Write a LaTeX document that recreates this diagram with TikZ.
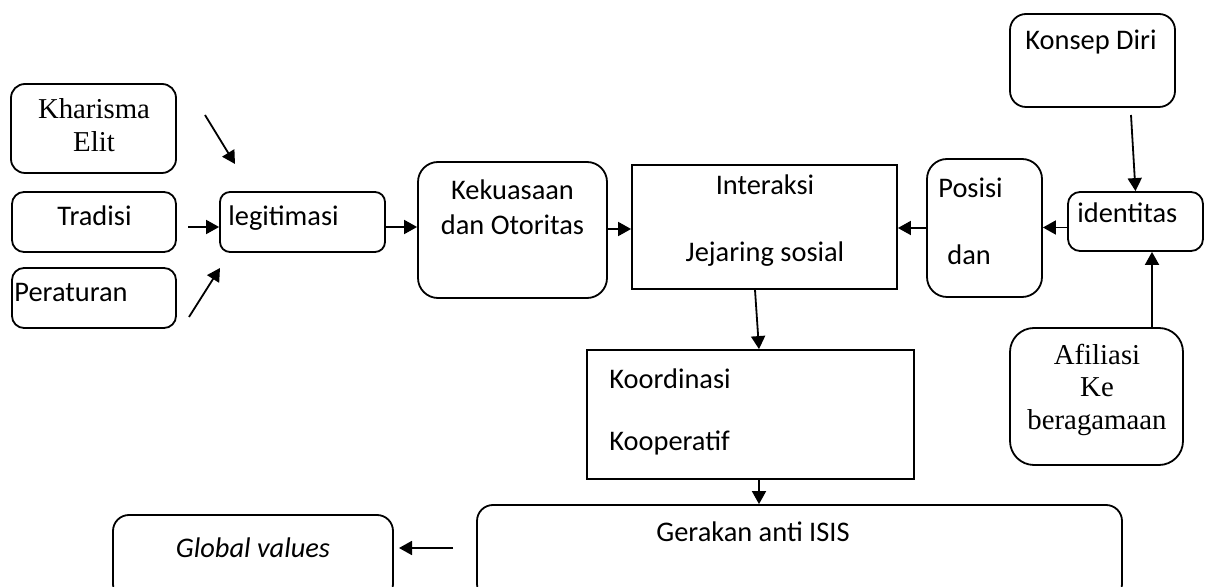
\documentclass[tikz,border=0pt]{standalone}
\usepackage{fontspec}
\setmainfont{Carlito}
\newfontfamily\timesf{Liberation Serif}
\usetikzlibrary{arrows.meta,fit,calc}
\begin{document}
\begin{tikzpicture}[x=0.5pt,y=-0.5pt,
  box/.style={draw, line width=0.9pt, inner sep=0pt, fit={#1}},
  txt/.style={anchor=base, inner sep=0pt, font=\fontsize{14.2}{17}\selectfont},
  ltxt/.style={txt, anchor=base west},
  ttxt/.style={txt, font=\fontsize{14.4}{17}\selectfont\timesf},
  arr/.style={-{Triangle[length=6.5pt,width=7pt]}, line width=0.9pt}]
\useasboundingbox (0,0) rectangle (1205,587);
% boxes
\node[box={(11,84)(176,173)}, rounded corners=7pt] (kh) {};
\node[box={(12,192)(176,252)}, rounded corners=6pt] (tr) {};
\node[box={(12,268)(176,328)}, rounded corners=6pt] (pe) {};
\node[box={(220,192)(385,252)}, rounded corners=5pt] (le) {};
\node[box={(418,162)(607,298)}, rounded corners=10pt] (ke) {};
\node[box={(632,165)(897,289)}] (in) {};
\node[box={(927,159)(1042,297)}, rounded corners=10pt] (po) {};
\node[box={(1068,192)(1203,251)}, rounded corners=6pt] (id) {};
\node[box={(1010,14)(1175,107)}, rounded corners=8pt] (ks) {};
\node[box={(1010,328)(1183,465)}, rounded corners=12pt] (af) {};
\node[box={(587,350)(914,479)}] (ko) {};
\node[box={(477,505)(1122,600)}, rounded corners=8pt] (ge) {};
\node[box={(113,515)(393,600)}, rounded corners=8pt] (gv) {};
% texts
\node[ttxt] (t1) at (94,119) {Kharisma};
\node[ttxt] (t2) at (94,152) {Elit};
\node[txt] (t3) at (94.5,226) {Tradisi};
\node[ltxt] (t4) at (14,302) {Peraturan};
\node[ltxt] (t5) at (228,226) {legitimasi};
\node[txt] (t6) at (512.5,200) {Kekuasaan};
\node[txt] (t7) at (512.5,235) {dan Otoritas};
\node[txt] (t8) at (765,195) {Interaksi};
\node[txt] (t9) at (765,262) {Jejaring sosial};
\node[ltxt] (t10) at (938,198) {Posisi};
\node[ltxt] (t11) at (947,265) {dan};
\node[ltxt] (t12) at (1077,223) {identitas};
\node[ltxt] (t13) at (1025,50) {Konsep Diri};
\node[ttxt] (t14) at (1097,365) {Afiliasi};
\node[ttxt] (t15) at (1097,397) {Ke};
\node[ttxt] (t16) at (1097,430) {beragamaan};
\node[ltxt] (t17) at (609,389) {Koordinasi};
\node[ltxt] (t18) at (609,451) {Kooperatif};
\node[txt] (t19) at (753,541) {Gerakan anti ISIS};
\node[txt, font=\fontsize{14.2}{17}\selectfont\itshape] (t20) at (253,557) {Global values};
% free ends and connector points
\coordinate (a1s) at (205,115);
\coordinate (a1e) at (235,164);
\coordinate (a2s) at (188,227);
\coordinate (a3s) at (189,317);
\coordinate (a3e) at (220,268);
\coordinate (a4s) at (1131,115);
\coordinate (a5s) at (453,548);
\coordinate (a5e) at (399,548);
\coordinate (b1) at ($(le.east)+(0,5)$);
\coordinate (b2) at ($(ke.east)+(0,-1)$);
\coordinate (b3) at ($(id.west)+(0,6)$);
\coordinate (vx1) at (1152,0);
\coordinate (vx2) at (755,0);
\coordinate (vx3) at (759,0);
% connectors
\draw[arr] (a1s) -- (a1e);
\draw[arr] (a2s) -- (a2s -| le.west);
\draw[arr] (a3s) -- (a3e);
\draw[arr] (b1) -- (b1 -| ke.west);
\draw[arr] (b2) -- (b2 -| in.west);
\draw[arr] (po.west) -- (po.west -| in.east);
\draw[arr] (b3) -- (b3 -| po.east);
\draw[arr] (a4s) -- (id.north);
\draw[arr] (af.north -| vx1) -- (id.south -| vx1);
\draw[arr] (in.south -| vx2) -- (ko.north -| vx3);
\draw[arr] (ko.south -| vx3) -- (ge.north -| vx3);
\draw[arr] (a5s) -- (a5e);
\end{tikzpicture}
\end{document}
